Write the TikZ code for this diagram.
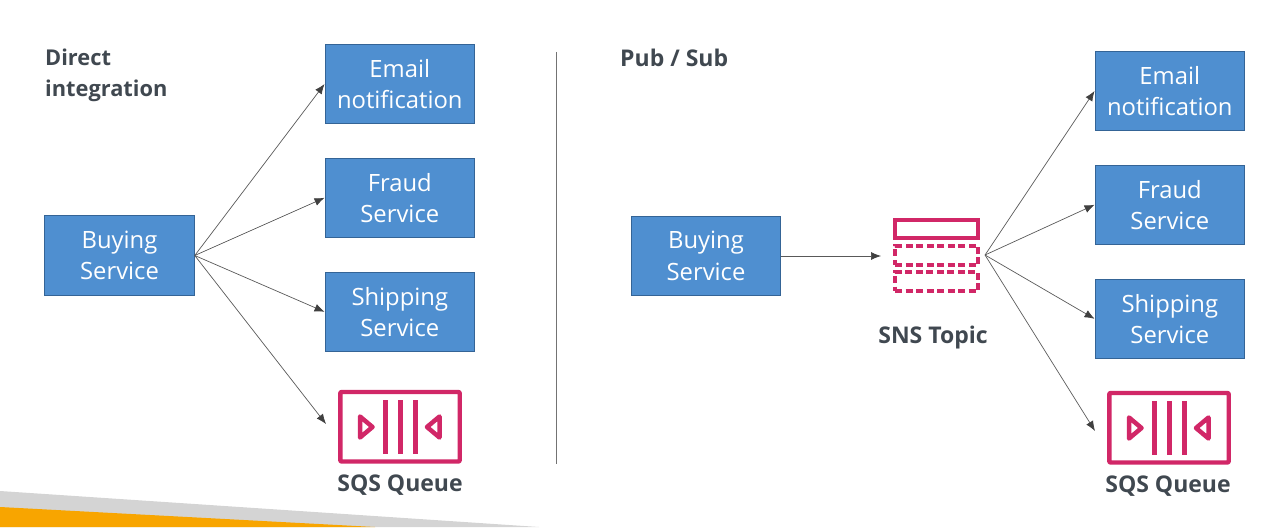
\documentclass[tikz,border=0pt]{standalone}
\usepackage{fontspec}
\setmainfont{Open Sans}
\usepackage{xcolor}
\usepackage{tikz}
\usetikzlibrary{arrows.meta,positioning}
\definecolor{boxblue}{RGB}{79,143,208}
\definecolor{boxedge}{RGB}{52,100,150}
\definecolor{iconpink}{RGB}{209,39,103}
\definecolor{labelgrey}{RGB}{64,72,80}
\definecolor{bandgrey}{RGB}{212,212,212}
\definecolor{bandorange}{RGB}{248,165,0}
\tikzset{
  svcbox/.style={draw=boxedge, line width=1pt, fill=boxblue, text=white, minimum width=149.5pt, minimum height=79.5pt,
    align=center, inner sep=0pt, font=\fontsize{23.8}{31.3}\selectfont},
  headlabel/.style={text=labelgrey, inner sep=0pt, align=left, font=\fontsize{23}{31}\selectfont\bfseries},
  link/.style={draw=black!65, line width=0.7pt, -{Latex[length=10pt,width=8pt,color=black!75]}},
  snsrow/.style={draw=iconpink, line width=3.7pt, minimum width=83pt, inner sep=0pt, dash pattern=on 7pt off 3.5pt}
}

\begin{document}
\begin{tikzpicture}[x=1pt,y=-1pt]
    \useasboundingbox (0,0) rectangle (1273,527);
    % bottom bands
    \fill[bandgrey] (0,491) -- (539,527) -- (0,527) -- cycle;
    \fill[bandorange] (0,507) -- (375,527) -- (0,527) -- cycle;

    % left half
    \node[headlabel, anchor=north west, font=\fontsize{21.8}{31}\selectfont\bfseries] (directhead) at (45,49) {Direct\\integration};
    \node[svcbox] (buyleft) at (119.5,255.5) {Buying\\Service};
    \node[svcbox] (emailleft) at (399.8,84) {Email\\notification};
    \node[svcbox] (fraudleft) at (399.8,197.8) {Fraud\\Service};
    \node[svcbox] (shipleft) at (399.8,311.8) {Shipping\\Service};
    \node[headlabel] (sqsleft) at (400,485.5) {SQS Queue};
    \coordinate (sqsinleft) at (326,424);

    % divider
    \coordinate (divtop) at (556,52);
    \coordinate (divbot) at (556,464);
    \draw[black!55, line width=0.9pt] (divtop) -- (divbot);

    % right half
    \node[headlabel, anchor=west] (pubhead) at (620,58) {Pub / Sub};
    \node[svcbox] (buyright) at (706,256) {Buying\\Service};
    \node[svcbox] (emailright) at (1169.8,91) {Email\\notification};
    \node[svcbox] (fraudright) at (1169.8,204.8) {Fraud\\Service};
    \node[svcbox] (shipright) at (1169.8,318.8) {Shipping\\Service};
    \node[headlabel] (sqsright) at (1168,486) {SQS Queue};
    \node[headlabel] (snslabel) at (933,338) {SNS Topic};
    \coordinate (sqsinright) at (1095,431);

    % SNS icon
    \node[draw=iconpink, line width=3.7pt, minimum width=83pt, minimum height=18.5pt, inner sep=0pt] (snstop) at (936.7,229) {};
    \node[snsrow, minimum height=19.5pt] (snsmid) at (936.7,255.5) {};
    \node[snsrow, minimum height=19pt] (snslow) at (936.7,281.5) {};
    \coordinate (snsin) at (881,256);
    \coordinate (snsout) at (985,255);

    % SQS icons
    \foreach \dx/\dy in {0/0,769/1} {
      \begin{scope}[shift={(\dx,\dy)}, draw=iconpink, line join=round, line cap=round]
        \draw[line width=4.4pt, rounded corners=1pt] (340.3,392) rectangle (459.7,461.5);
        \foreach \bx in {385,400,415}
          \draw[line width=5pt, line cap=butt] (\bx,400) -- (\bx,454);
        \draw[line width=4.5pt] (360,416.5) -- (372.5,427) -- (360,437.5) -- cycle;
        \draw[line width=4.5pt] (439.5,416.5) -- (427,427) -- (439.5,437.5) -- cycle;
      \end{scope}
    }

    % connectors
    \foreach \t in {emailleft,fraudleft,shipleft}
      \draw[link] (buyleft.east) -- (\t.west);
    \draw[link] (buyleft.east) -- (sqsinleft);
    \draw[link] (buyright.east) -- (snsin);
    \foreach \t in {emailright,fraudright,shipright}
      \draw[link] (snsout) -- (\t.west);
    \draw[link] (snsout) -- (sqsinright);
  \end{tikzpicture}
\end{document}
